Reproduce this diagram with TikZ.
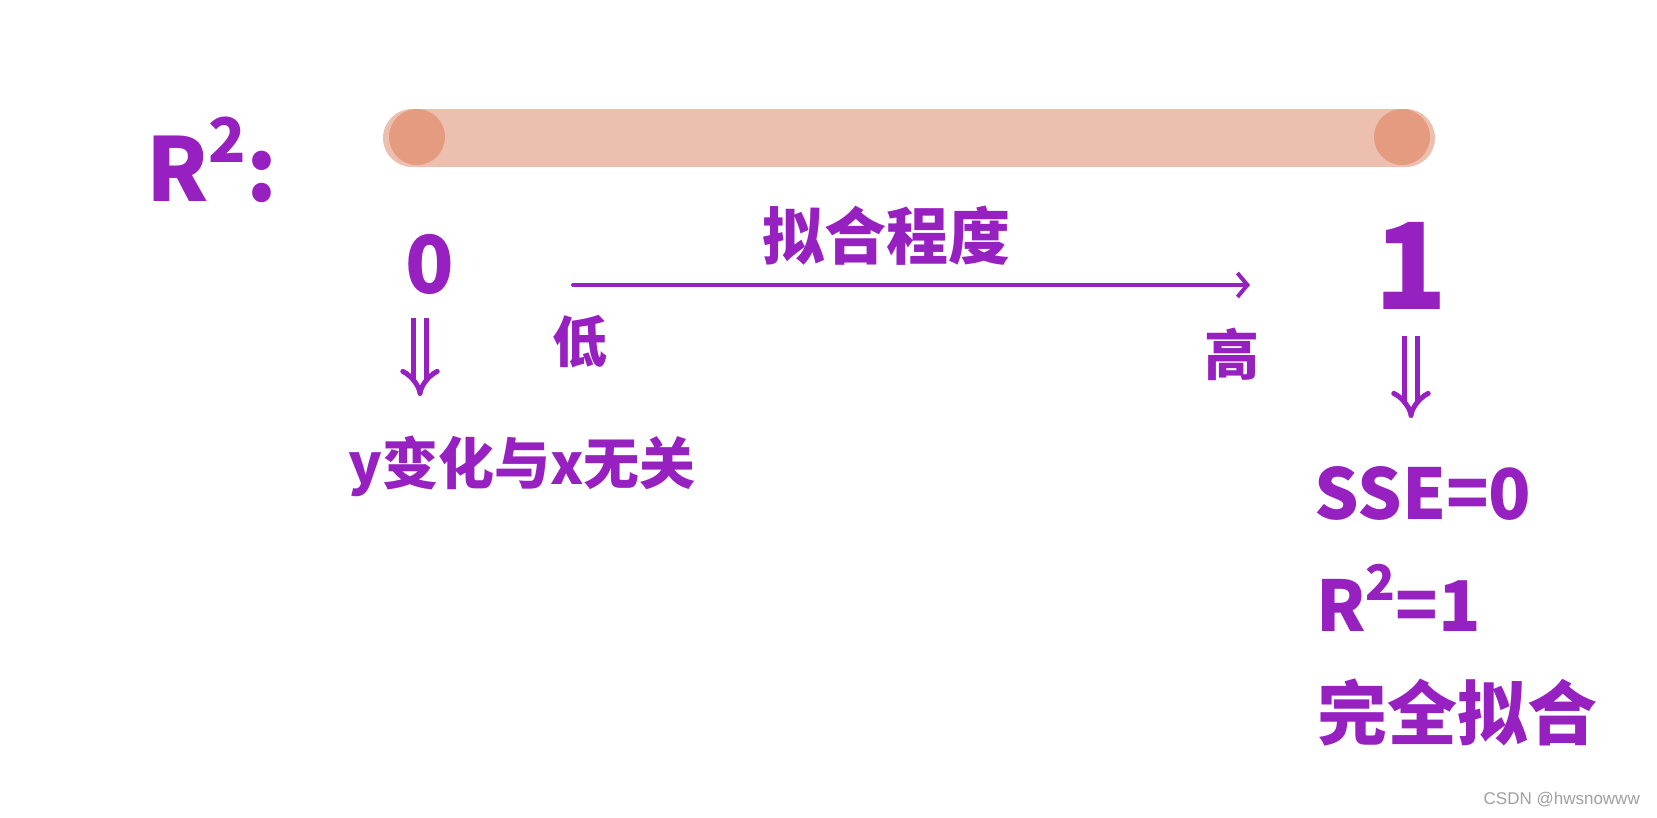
\documentclass[tikz,border=0pt]{standalone}
\usepackage{fontspec}
\setmainfont{Liberation Sans}
\newfontfamily\cjk{Noto Sans CJK SC}
\usetikzlibrary{arrows.meta}
\definecolor{pen}{RGB}{150,32,192}
\definecolor{barc}{RGB}{236,191,174}
\definecolor{dotc}{RGB}{229,155,127}
\definecolor{wm}{RGB}{160,160,160}
\newcommand{\supr}[1]{\raisebox{0.45em}{\scalebox{0.7}{#1}}}
\tikzset{
  hw/.style={text=pen, inner sep=0pt},
  dotn/.style={circle, fill=dotc, minimum size=56pt, inner sep=0pt},
  implied/.style={draw=pen, line width=5pt, double distance=8pt, -{Implies}},
  fitarrow/.style={draw=pen, line width=4pt, line cap=round, -{Straight Barb[length=10pt,width=24pt]}}
}
\begin{document}
\begin{tikzpicture}[x=1pt,y=-1pt]
\useasboundingbox[fill=white] (0,0) rectangle (1657,817);
% bar
\coordinate (bl) at (412,138);
\coordinate (br) at (1406,138);
\draw[barc, line width=58pt, line cap=round] (bl) -- (br);
\node[dotn] (dl) at (417,137) {};
\node[dotn] (dr) at (1402,137) {};
% R^2:
\node[hw, font=\cjk\bfseries\fontsize{88}{88}\selectfont] (r2) at (212,160) {R\supr{2}:};
% left column
\node[hw, font=\cjk\bfseries\fontsize{80}{80}\selectfont] (zero) at (430,264) {0};
\node[hw, font=\cjk\bfseries\fontsize{56}{56}\selectfont] (yx) at (522,466) {y变化与x无关};
\draw[implied] (420,318) -- (420,396);
% right column
\node[hw, font=\cjk\bfseries\fontsize{120}{120}\selectfont] (one) at (1411,266) {1};
\draw[implied] (1411,336) -- (1411,418);
\node[hw, font=\cjk\bfseries\fontsize{70}{70}\selectfont, anchor=west] (sse) at (1314,493) {SSE=0};
\node[hw, font=\cjk\bfseries\fontsize{70}{70}\selectfont, anchor=west] (rr) at (1316,598) {R\supr{2}=1};
\node[hw, font=\cjk\bfseries\fontsize{70}{70}\selectfont] (full) at (1457,712) {完全拟合};
% fit degree arrow
\coordinate (as) at (573,285);
\coordinate (ae) at (1250,285);
\draw[fitarrow] (as) -- (ae);
\node[hw, font=\cjk\bfseries\fontsize{62}{62}\selectfont] (deg) at (886,236) {拟合程度};
\node[hw, font=\cjk\bfseries\fontsize{55}{55}\selectfont] (low) at (580,342) {低};
\node[hw, font=\cjk\bfseries\fontsize{55}{55}\selectfont] (high) at (1232,354) {高};
% watermark
\node[text=wm, font=\fontsize{17}{17}\selectfont, anchor=east, inner sep=0pt] (wmk) at (1640,800) {CSDN @hwsnowww};
\end{tikzpicture}
\end{document}
